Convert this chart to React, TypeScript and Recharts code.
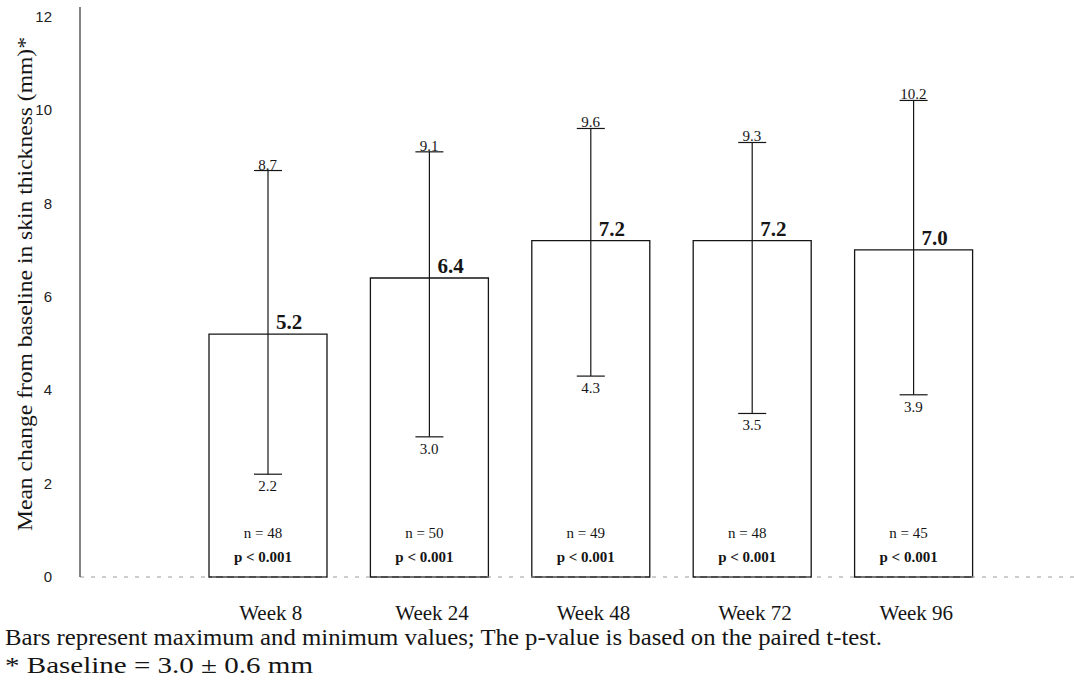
import {
  Bar,
  ComposedChart,
  ErrorBar,
  LabelList,
  Line,
  XAxis,
  YAxis,
} from "recharts";

const weeks = ["Week 8", "Week 24", "Week 48", "Week 72", "Week 96"];
const means = [5.2, 6.4, 7.2, 7.2, 7.0];
const mins = [2.2, 3.0, 4.3, 3.5, 3.9];
const maxs = [8.7, 9.1, 9.6, 9.3, 10.2];
const counts = [48, 50, 49, 48, 45];
const pValues = ["p < 0.001", "p < 0.001", "p < 0.001", "p < 0.001", "p < 0.001"];
const yTicks = [0, 2, 4, 6, 8, 10, 12];

const data = weeks.map((week, i) => ({
  week,
  mean: means[i],
  min: mins[i],
  max: maxs[i],
  err: [means[i] - mins[i], maxs[i] - means[i]],
  n: counts[i],
  p: pValues[i],
}));

const SERIF = "Liberation Serif, Times New Roman, Times, serif";
const SANS = "Liberation Sans, Arial, Helvetica, sans-serif";
const INK = "#151515";

const serif = (size: number, bold = false) => ({
  fontFamily: SERIF,
  fontSize: size,
  fontWeight: bold ? 700 : 400,
});

function WeekTick({ x, y, payload }: any) {
  return (
    <text x={x + 3} y={y} dy={35} textAnchor="middle" fill={INK} style={serif(21)}>
      {payload.value}
    </text>
  );
}

function MeanLabel({ x, y, width, value }: any) {
  return (
    <text x={x + width / 2 + 8} y={y - 5} fill={INK} style={serif(21, true)}>
      {Number(value).toFixed(1)}
    </text>
  );
}

function CountLabel({ x, y, width, height, value }: any) {
  return (
    <text x={x + width / 2 - 5} y={y + height - 39} textAnchor="middle" fill={INK} style={serif(15)}>
      {`n = ${value}`}
    </text>
  );
}

function PLabel({ x, y, width, height, value }: any) {
  return (
    <text x={x + width / 2 - 5} y={y + height - 15} textAnchor="middle" fill={INK} style={serif(15, true)}>
      {value}
    </text>
  );
}

function MaxLabel({ x, y, value }: any) {
  return (
    <text x={x} y={y - 1} textAnchor="middle" fill={INK} style={serif(15)}>
      {Number(value).toFixed(1)}
    </text>
  );
}

function MinLabel({ x, y, value }: any) {
  return (
    <text x={x} y={y + 17} textAnchor="middle" fill={INK} style={serif(15)}>
      {Number(value).toFixed(1)}
    </text>
  );
}

function YTitle() {
  return (
    <text
      transform="translate(32,531) rotate(-90)"
      x={0}
      y={0}
      fill={INK}
      style={serif(22)}
      textLength={494}
      lengthAdjust="spacingAndGlyphs"
    >
      Mean change from baseline in skin thickness (mm)*
    </text>
  );
}

export default function App() {
  return (
    <div style={{ position: "absolute", left: 0, top: 0, width: 1074, height: 688, background: "#fff" }}>
      <ComposedChart
        width={1074}
        height={625}
        data={data}
        margin={{ top: 7, right: 0, bottom: 0, left: 0 }}
      >
        <XAxis
          dataKey="week"
          interval={0}
          height={48}
          padding={{ left: 107, right: 80 }}
          tickLine={false}
          axisLine={{ stroke: "#9a9a9a", strokeDasharray: "4 7" }}
          tick={<WeekTick />}
        />
        <YAxis
          type="number"
          domain={[0, 12.2]}
          ticks={yTicks}
          width={80}
          tickLine={false}
          tickMargin={22}
          axisLine={{ stroke: "#333", strokeWidth: 1.2 }}
          tick={{ fill: "#222", style: { fontFamily: SANS, fontSize: 15 } }}
          label={YTitle}
        />
        <Bar
          dataKey="mean"
          barSize={118}
          fill="#fff"
          stroke={INK}
          strokeWidth={1.3}
          isAnimationActive={false}
        >
          <ErrorBar dataKey="err" width={14} stroke={INK} strokeWidth={1.2} direction="y" />
          <LabelList dataKey="mean" content={MeanLabel} />
          <LabelList dataKey="n" content={CountLabel} />
          <LabelList dataKey="p" content={PLabel} />
        </Bar>
        <Line
          dataKey="max"
          stroke="none"
          dot={false}
          activeDot={false}
          legendType="none"
          isAnimationActive={false}
        >
          <LabelList dataKey="max" content={MaxLabel} />
        </Line>
        <Line
          dataKey="min"
          stroke="none"
          dot={false}
          activeDot={false}
          legendType="none"
          isAnimationActive={false}
        >
          <LabelList dataKey="min" content={MinLabel} />
        </Line>
      </ComposedChart>
      <svg width={1074} height={63} style={{ display: "block" }}>
        <text x={5} y={20} fill={INK} style={serif(24)} textLength={877} lengthAdjust="spacingAndGlyphs">
          Bars represent maximum and minimum values;  The p-value is based on the paired t-test.
        </text>
        <text x={5} y={48} fill={INK} style={serif(24)} textLength={308} lengthAdjust="spacingAndGlyphs">
          * Baseline = 3.0 ± 0.6 mm
        </text>
      </svg>
    </div>
  );
}
